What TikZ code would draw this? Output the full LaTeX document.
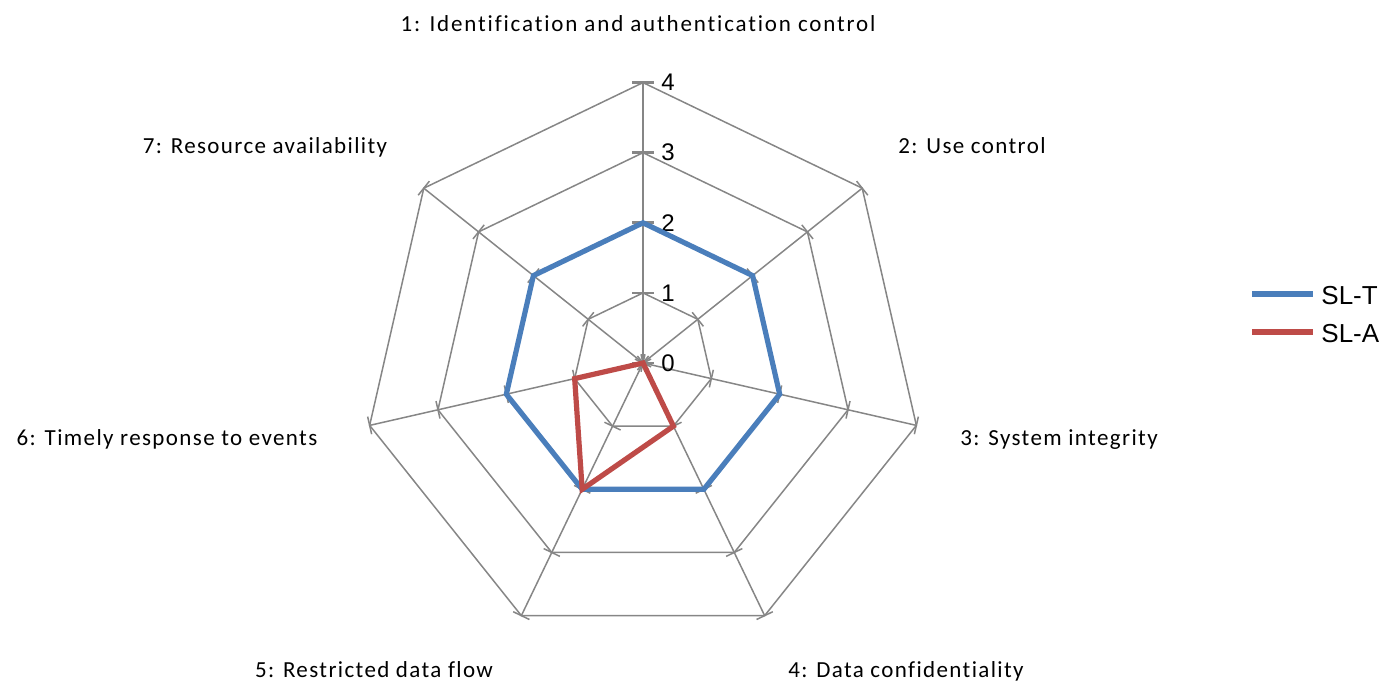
\documentclass[tikz,border=0pt]{standalone}
\usepackage{fontspec}
\setmainfont{Carlito}
\newfontfamily\lblfont[LetterSpace=6, Ligatures=NoCommon]{Carlito}
\newfontfamily\lblwidefont[LetterSpace=8, Ligatures=NoCommon]{Carlito}
\newfontfamily\arialfont{Liberation Sans}
\usetikzlibrary{calc}
\definecolor{gridgray}{HTML}{868686}
\definecolor{sltblue}{HTML}{4A7EBB}
\definecolor{slared}{HTML}{BE4B48}
\tikzset{
  gridline/.style={draw=gridgray, line width=0.75pt},
  mainaxis/.style={draw=gridgray, line width=1.4pt},
  series/.style={line width=2.6pt, line join=miter},
  catlabel/.style={font=\lblfont\fontsize{11.5pt}{13pt}\selectfont, anchor=base, inner sep=0pt},
  vallabel/.style={font=\arialfont\fontsize{12pt}{14pt}\selectfont, anchor=west, inner sep=0pt},
  legtext/.style={font=\arialfont\fontsize{13pt}{15pt}\selectfont, anchor=west, inner sep=0pt},
}
\begin{document}
\begin{tikzpicture}[x=0.5pt, y=-0.5pt]
\useasboundingbox (0,0) rectangle (1381,685);

\begin{scope}[shift={(643,363)}]
  \def\unitr{70.1}
  % concentric heptagons
  \foreach \l in {1,...,4} {
    \draw[gridline] (-90:\l*\unitr)
      \foreach \k in {1,...,6} { -- ({-90+\k*360/7}:\l*\unitr) } -- cycle;
  }
  % spokes with cross ticks at every level
  \foreach \k in {1,...,6} {
    \draw[gridline] (0,0) -- ({-90+\k*360/7}:4*\unitr);
    \foreach \l in {0,...,4} {
      \coordinate (p) at ({-90+\k*360/7}:\l*\unitr);
      \coordinate (q) at ({-90+\k*360/7}:\l*\unitr+10);
      \draw[gridline] ($(p)!4.5pt!90:(q)$) -- ($(p)!4.5pt!-90:(q)$);
    }
  }
  % value axis
  \draw[mainaxis] (0,0) -- (0,-4*\unitr);
  \foreach \l in {0,...,4} {
    \draw[mainaxis] (-11,-\l*\unitr) -- (11,-\l*\unitr);
    \node[vallabel] (v\l) at (18,-\l*\unitr) {\l};
  }

  % series points
  \foreach \v [count=\k from 0] in {2,2,2,2,2,2,2}
    \coordinate (t\k) at ({-90+\k*360/7}:\v*\unitr);
  \foreach \v [count=\k from 0] in {0,0,0,1,2,1,0}
    \coordinate (a\k) at ({-90+\k*360/7}:\v*\unitr);

  \draw[series, sltblue] (t0) -- (t1) -- (t2) -- (t3) -- (t4) -- (t5) -- (t6) -- cycle;
  \draw[series, slared] (a0) -- (a1) -- (a2) -- (a3) -- (a4) -- (a5) -- (a6) -- cycle;
\end{scope}

% category labels
\node[catlabel, font=\lblwidefont\fontsize{11.5pt}{13pt}\selectfont] (c1) at (638,32) {1: Identification and authentication control};
\node[catlabel] (c2) at (972,153) {2: Use control};
\node[catlabel] (c3) at (1059,445) {3: System integrity};
\node[catlabel] (c4) at (906,677) {4: Data confidentiality};
\node[catlabel] (c5) at (374,677) {5: Restricted data flow};
\node[catlabel] (c6) at (167,445) {6: Timely response to events};
\node[catlabel] (c7) at (265,153) {7: Resource availability};

% legend
\coordinate (lt0) at (1252,294);
\coordinate (lt1) at (1313,294);
\coordinate (la0) at (1252,332);
\coordinate (la1) at (1313,332);
\draw[sltblue, line width=3pt] (lt0) -- (lt1);
\draw[slared, line width=3pt] (la0) -- (la1);
\node[legtext] (lgt) at (1321,296) {SL-T};
\node[legtext] (lga) at (1321,334) {SL-A};
\end{tikzpicture}
\end{document}
